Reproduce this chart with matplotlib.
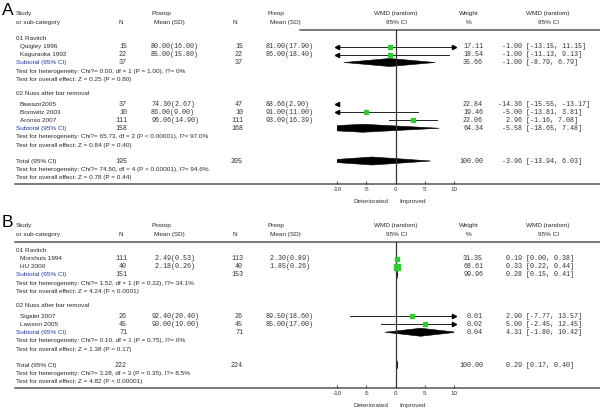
import matplotlib
matplotlib.use("Agg")
import matplotlib.pyplot as plt
from matplotlib.patches import Polygon

# ---------------- panel A ----------------
a_groups = ["01 Ravitch", "02 Nuss after bar removal"]
a_studies = [["Quigley 1996", "Kaguraoka 1992"],
             ["Bawazir2005", "Borowitz 2003", "Aronso 2007"]]
a_n_post = [[15, 22], [37, 10, 111]]
a_mean_post = [[80.00, 85.00], [74.30, 86.00, 96.06]]
a_sd_post = [[16.00, 15.80], [2.67, 9.00, 14.90]]
a_n_pre = [[15, 22], [47, 10, 111]]
a_mean_pre = [[81.00, 86.00], [88.66, 91.00, 93.09]]
a_sd_pre = [[17.90, 18.40], [2.90, 11.00, 16.39]]
a_weight = [[17.11, 18.54], [22.84, 19.46, 22.06]]
a_wmd = [[-1.00, -1.00], [-14.36, -5.00, 2.96]]
a_lo = [[-13.15, -11.13], [-15.55, -13.81, -1.16]]
a_hi = [[11.15, 9.13], [-13.17, 3.81, 7.08]]
a_sub_n_post = [37, 158]
a_sub_n_pre = [37, 168]
a_sub_weight = [35.66, 64.34]
a_sub_wmd = [-1.00, -5.58]
a_sub_lo = [-8.79, -18.65]
a_sub_hi = [6.79, 7.48]
a_sub_het = ["Test for heterogeneity: Chi?= 0.00, df = 1 (P = 1.00), I?= 0%",
             "Test for heterogeneity: Chi?= 65.73, df = 2 (P < 0.00001), I?= 97.0%"]
a_sub_z = ["Test for overall effect: Z = 0.25 (P = 0.80)",
           "Test for overall effect: Z = 0.84 (P = 0.40)"]
a_total = [195, 205, 100.00, -3.96, -13.94, 6.03]
a_total_het = "Test for heterogeneity: Chi?= 74.50, df = 4 (P < 0.00001), I?= 94.6%"
a_total_z = "Test for overall effect: Z = 0.78 (P = 0.44)"

# ---------------- panel B ----------------
b_groups = ["01 Ravitch", "02 Nuss after bar removal"]
b_studies = [["Morshuis 1994", "HU 2000"], ["Sigalet 2007", "Lawson 2005"]]
b_n_post = [[111, 40], [26, 45]]
b_mean_post = [[2.49, 2.18], [92.40, 90.00]]
b_sd_post = [[0.53, 0.26], [20.40, 19.00]]
b_n_pre = [[113, 40], [26, 45]]
b_mean_pre = [[2.30, 1.85], [89.50, 85.00]]
b_sd_pre = [[0.89, 0.26], [18.60, 17.00]]
b_weight = [[31.35, 68.61], [0.01, 0.02]]
b_wmd = [[0.19, 0.33], [2.90, 5.00]]
b_lo = [[0.00, 0.22], [-7.77, -2.45]]
b_hi = [[0.38, 0.44], [13.57, 12.45]]
b_sub_n_post = [151, 71]
b_sub_n_pre = [153, 71]
b_sub_weight = [99.96, 0.04]
b_sub_wmd = [0.28, 4.31]
b_sub_lo = [0.15, -1.80]
b_sub_hi = [0.41, 10.42]
b_sub_het = ["Test for heterogeneity: Chi?= 1.52, df = 1 (P = 0.22), I?= 34.1%",
             "Test for heterogeneity: Chi?= 0.10, df = 1 (P = 0.75), I?= 0%"]
b_sub_z = ["Test for overall effect: Z = 4.24 (P < 0.0001)",
           "Test for overall effect: Z = 1.38 (P = 0.17)"]
b_total = [222, 224, 100.00, 0.29, 0.17, 0.40]
b_total_het = "Test for heterogeneity: Chi?= 3.28, df = 3 (P = 0.35), I?= 8.5%"
b_total_z = "Test for overall effect: Z = 4.82 (P < 0.00001)"

ticks = [-10, -5, 0, 5, 10]

SANS = "Liberation Sans"
MONO = "Liberation Mono"
TXT = "#2a2a2a"
BLUE = "#1f3aa8"
GREEN = "#2ecc2e"
FS = 4.6     # sans text
FM = 4.9     # mono numbers

fig = plt.figure(figsize=(6, 4.12), dpi=100)
bg = fig.add_axes([0, 0, 1, 1])
bg.set_xlim(0, 600)
bg.set_ylim(412, 0)
bg.axis("off")


def label(x, y, s, color=TXT, ha="left", size=FS):
    bg.text(x, y + 1.7, s, ha=ha, va="baseline", fontsize=size, family=SANS, color=color)


def num(x, y, s, ha="left"):
    bg.text(x, y + 1.7, s, ha=ha, va="baseline", fontsize=FM, family=MONO, color="#333333")


def ci_text(est, lo, hi):
    return f"{est:6.2f} [{lo:.2f}, {hi:.2f}]"


def diamond(ax, y, est, lo, hi):
    pts = [(lo, y), (est, y - 4), (hi, y), (est, y + 4)]
    ax.add_patch(Polygon(pts, closed=True, facecolor="black", edgecolor="black", lw=0.4))


def draw_panel(letter, y0, hline_x0, d):
    bg.text(2, y0 + 10, letter, fontsize=12.5, family=SANS, color="black", va="center")
    # headers
    label(16, y0 + 13, "Study")
    label(16, y0 + 22, "or sub-category")
    label(121, y0 + 22, "N", ha="center")
    label(152, y0 + 13, "Postop")
    label(154, y0 + 22, "Mean (SD)")
    label(235, y0 + 22, "N", ha="center")
    label(268, y0 + 13, "Preop")
    label(270, y0 + 22, "Mean (SD)")
    label(396, y0 + 13, "WMD (random)", ha="center")
    label(396, y0 + 22, "95% CI", ha="center")
    label(469, y0 + 13, "Weight", ha="center")
    label(469, y0 + 22, "%", ha="center")
    label(548, y0 + 13, "WMD (random)", ha="center")
    label(548, y0 + 22, "95% CI", ha="center")

    # row layout
    rows = []
    y = y0 + 38.5
    for gi in range(len(d["groups"])):
        hdr = y
        y = hdr + (8 if gi == 0 else 11)
        st = []
        for _ in d["studies"][gi]:
            st.append(y)
            y += 8
        sub = y
        het = sub + 8.5
        ov = het + 8.25
        rows.append((hdr, st, sub, het, ov))
        y = ov + 14
    tot = rows[-1][4] + 16
    tot_het = tot + 8.5
    tot_z = tot_het + 8
    y_line = tot_z + 6.5
    y_top = y0 + 30

    ax = fig.add_axes([337 / 600, 1 - y_line / 412, 117 / 600, (y_line - y_top) / 412])
    ax.set_facecolor("none")
    ax.set_xlim(-10, 10)
    ax.set_ylim(y_line, y_top)
    for s in ax.spines.values():
        s.set_visible(False)
    ax.set_yticks([])
    ax.set_xticks(ticks)
    ax.set_xticklabels([str(t) for t in ticks], family=SANS)
    ax.tick_params(axis="x", direction="in", length=2, width=0.6, pad=2.5,
                   labelsize=4.5, colors="#333333")
    ax.axvline(0, color="#333333", lw=0.9)

    bg.plot([hline_x0, 600], [y_top, y_top], color="#555555", lw=1.1)
    bg.plot([15, 600], [y_line, y_line], color="#555555", lw=1.1)
    label(371, y_line + 17.5, "Deteriorated", ha="center", color="#333333")
    label(413, y_line + 17.5, "Improved", ha="center", color="#333333")

    for gi, (hdr, st, sub, het, ov) in enumerate(rows):
        label(16, hdr, d["groups"][gi])
        for si, ys in enumerate(st):
            label(20, ys, d["studies"][gi][si])
            num(127, ys, str(d["n_post"][gi][si]), ha="right")
            num(151, ys, f"{d['mean_post'][gi][si]:5.2f}({d['sd_post'][gi][si]:.2f})")
            num(243, ys, str(d["n_pre"][gi][si]), ha="right")
            num(266, ys, f"{d['mean_pre'][gi][si]:5.2f}({d['sd_pre'][gi][si]:.2f})")
            num(483, ys, f"{d['weight'][gi][si]:.2f}", ha="right")
            est, lo, hi = d["wmd"][gi][si], d["lo"][gi][si], d["hi"][gi][si]
            num(498, ys, ci_text(est, lo, hi))
            x0, x1 = max(lo, -10), min(hi, 10)
            if x1 > x0:
                ax.plot([x0, x1], [ys, ys], color="#222222", lw=0.7)
            if lo < -10:
                ax.plot(-10, ys, marker="<", ms=3.0, color="black", clip_on=False)
            if hi > 10:
                ax.plot(10, ys, marker=">", ms=3.0, color="black", clip_on=False)
            side = max(3.5, 0.75 * d["weight"][gi][si] ** 0.5) * 0.72
            if -10 <= est <= 10:
                ax.plot(est, ys, marker="s", ms=side, color=GREEN, mec=GREEN, zorder=4)
        label(16, sub, "Subtotal (95% CI)", color=BLUE)
        num(127, sub, str(d["sub_n_post"][gi]), ha="right")
        num(243, sub, str(d["sub_n_pre"][gi]), ha="right")
        num(483, sub, f"{d['sub_weight'][gi]:.2f}", ha="right")
        num(498, sub, ci_text(d["sub_wmd"][gi], d["sub_lo"][gi], d["sub_hi"][gi]))
        diamond(ax, sub, d["sub_wmd"][gi], d["sub_lo"][gi], d["sub_hi"][gi])
        label(16, het, d["sub_het"][gi])
        label(16, ov, d["sub_z"][gi])

    t = d["total"]
    label(16, tot, "Total (95% CI)")
    num(127, tot, str(t[0]), ha="right")
    num(243, tot, str(t[1]), ha="right")
    num(483, tot, f"{t[2]:.2f}", ha="right")
    num(498, tot, ci_text(t[3], t[4], t[5]))
    diamond(ax, tot, t[3], t[4], t[5])
    label(16, tot_het, d["total_het"])
    label(16, tot_z, d["total_z"])


panel_a = dict(groups=a_groups, studies=a_studies, n_post=a_n_post, mean_post=a_mean_post,
               sd_post=a_sd_post, n_pre=a_n_pre, mean_pre=a_mean_pre, sd_pre=a_sd_pre,
               weight=a_weight, wmd=a_wmd, lo=a_lo, hi=a_hi, sub_n_post=a_sub_n_post,
               sub_n_pre=a_sub_n_pre, sub_weight=a_sub_weight, sub_wmd=a_sub_wmd,
               sub_lo=a_sub_lo, sub_hi=a_sub_hi, sub_het=a_sub_het, sub_z=a_sub_z,
               total=a_total, total_het=a_total_het, total_z=a_total_z)
panel_b = dict(groups=b_groups, studies=b_studies, n_post=b_n_post, mean_post=b_mean_post,
               sd_post=b_sd_post, n_pre=b_n_pre, mean_pre=b_mean_pre, sd_pre=b_sd_pre,
               weight=b_weight, wmd=b_wmd, lo=b_lo, hi=b_hi, sub_n_post=b_sub_n_post,
               sub_n_pre=b_sub_n_pre, sub_weight=b_sub_weight, sub_wmd=b_sub_wmd,
               sub_lo=b_sub_lo, sub_hi=b_sub_hi, sub_het=b_sub_het, sub_z=b_sub_z,
               total=b_total, total_het=b_total_het, total_z=b_total_z)

draw_panel("A", 0, 300, panel_a)
draw_panel("B", 212, 15, panel_b)

fig.savefig("out.png", dpi=100)
